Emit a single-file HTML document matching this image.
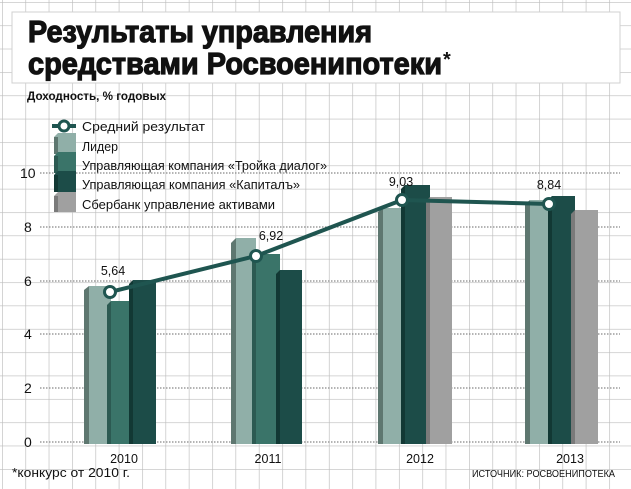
<!DOCTYPE html>
<html><head><meta charset="utf-8"><style>
html,body{margin:0;padding:0;background:#fff}
svg{display:block}
text{font-family:"Liberation Sans","DejaVu Sans",sans-serif}
</style></head><body>
<svg width="631" height="489" viewBox="0 0 631 489" xmlns="http://www.w3.org/2000/svg">
<defs>
<pattern id="g" x="2" y="2" width="23.35" height="23.35" patternUnits="userSpaceOnUse">
<path d="M0 0H23.35M0 0V23.35" stroke="#bdbdbd" stroke-width="1.3" fill="none"/>
</pattern>
</defs>
<rect width="631" height="489" fill="#fff"/>
<rect width="631" height="489" fill="url(#g)"/>
<rect x="12" y="12" width="608" height="71" fill="#fff" stroke="#d0d0d0" stroke-width="1"/>
<g font-weight="bold" fill="#111">
<text x="28" y="42" font-size="31" stroke="#111" stroke-width="1.2" textLength="344" lengthAdjust="spacingAndGlyphs">Результаты управления</text>
<text x="28" y="74" font-size="31" stroke="#111" stroke-width="1.2" textLength="414" lengthAdjust="spacingAndGlyphs">средствами Росвоенипотеки</text>
<text x="443" y="66" font-size="20">*</text>
<text x="27" y="100" font-size="11.5" textLength="139" lengthAdjust="spacingAndGlyphs">Доходность, % годовых</text>
</g>
<g stroke="#888" stroke-width="1.3" stroke-dasharray="1.5,1.5">
<line x1="40" y1="173" x2="620" y2="173"/>
<line x1="40" y1="227" x2="620" y2="227"/>
<line x1="40" y1="281" x2="620" y2="281"/>
<line x1="40" y1="334" x2="620" y2="334"/>
<line x1="40" y1="388" x2="620" y2="388"/>
<line x1="40" y1="442" x2="620" y2="442"/>
</g>
<g font-size="14" fill="#111">
<text x="20" y="178">10</text>
<text x="24" y="232">8</text>
<text x="24" y="286">6</text>
<text x="24" y="339">4</text>
<text x="24" y="393">2</text>
<text x="24" y="447">0</text>
</g>
<g>
<polygon points="84,290 89,286 89,444 84,444" fill="#5e7770"/><rect x="89" y="286" width="22" height="158" fill="#90afa8"/>
<polygon points="107,305 111,301 111,444 107,444" fill="#2c5a52"/><rect x="111" y="301" width="22" height="143" fill="#3a7469"/>
<polygon points="129,284 133,280 133,444 129,444" fill="#123834"/><rect x="133" y="280" width="23" height="164" fill="#1c4c48"/>
<polygon points="231,243 236,238 236,444 231,444" fill="#5e7770"/><rect x="236" y="238" width="20" height="206" fill="#90afa8"/>
<polygon points="252,258 256,254 256,444 252,444" fill="#2c5a52"/><rect x="256" y="254" width="24" height="190" fill="#3a7469"/>
<polygon points="276,274 280,270 280,444 276,444" fill="#123834"/><rect x="280" y="270" width="22" height="174" fill="#1c4c48"/>
<polygon points="378,212 383,208 383,444 378,444" fill="#5e7770"/><rect x="383" y="208" width="22" height="236" fill="#90afa8"/>
<polygon points="401,189 405,185 405,444 401,444" fill="#123834"/><rect x="405" y="185" width="25" height="259" fill="#1c4c48"/>
<polygon points="426,201 430,197 430,444 426,444" fill="#7a7a7a"/><rect x="430" y="197" width="22" height="247" fill="#a0a0a0"/>
<polygon points="525,204 530,200 530,444 525,444" fill="#5e7770"/><rect x="530" y="200" width="22" height="244" fill="#90afa8"/>
<polygon points="548,200 552,196 552,444 548,444" fill="#123834"/><rect x="552" y="196" width="23" height="248" fill="#1c4c48"/>
<polygon points="571,214 575,210 575,444 571,444" fill="#7a7a7a"/><rect x="575" y="210" width="23" height="234" fill="#a0a0a0"/>
</g>
<polyline points="110,292 256,256 402,200 549,204" fill="none" stroke="#1f5550" stroke-width="4"/>
<g fill="#fff" stroke="#1f5550" stroke-width="3">
<circle cx="110" cy="292" r="5.5"/><circle cx="256" cy="256" r="5.5"/>
<circle cx="402" cy="200" r="5.5"/><circle cx="549" cy="204" r="5.5"/>
</g>
<g font-size="12.5" fill="#111" text-anchor="middle">
<text x="113" y="275">5,64</text>
<text x="271" y="240">6,92</text>
<text x="401" y="186">9,03</text>
<text x="549" y="189">8,84</text>
</g>
<g font-size="12.5" fill="#111" text-anchor="middle">
<text x="124" y="463">2010</text>
<text x="268" y="463">2011</text>
<text x="420" y="463">2012</text>
<text x="570" y="463">2013</text>
</g>
<line x1="52" y1="126" x2="76" y2="126" stroke="#1f5550" stroke-width="4"/>
<circle cx="64" cy="126" r="5" fill="#fff" stroke="#1f5550" stroke-width="3"/>
<polygon points="54,137 58,133 76,133 76,154 54,154" fill="#90afa8"/><rect x="54" y="137" width="4" height="17" fill="#5e7770"/>
<polygon points="54,156 58,152 76,152 76,173 54,173" fill="#3a7469"/><rect x="54" y="156" width="4" height="17" fill="#2c5a52"/>
<polygon points="54,175 58,171 76,171 76,192 54,192" fill="#1c4c48"/><rect x="54" y="175" width="4" height="17" fill="#123834"/>
<polygon points="54,196 58,192 76,192 76,212 54,212" fill="#a0a0a0"/><rect x="54" y="196" width="4" height="16" fill="#7a7a7a"/>
<g font-size="12.5" fill="#111">
<text x="82" y="131" textLength="123" lengthAdjust="spacingAndGlyphs">Средний результат</text>
<text x="82" y="151" textLength="36" lengthAdjust="spacingAndGlyphs">Лидер</text>
<text x="82" y="170" textLength="245" lengthAdjust="spacingAndGlyphs">Управляющая компания «Тройка диалог»</text>
<text x="82" y="189" textLength="218" lengthAdjust="spacingAndGlyphs">Управляющая компания «Капиталъ»</text>
<text x="82" y="209" textLength="193" lengthAdjust="spacingAndGlyphs">Сбербанк управление активами</text>
</g>
<text x="12" y="477" font-size="12.5" fill="#111" textLength="118" lengthAdjust="spacingAndGlyphs">*конкурс от 2010 г.</text>
<text x="615" y="477" font-size="10.5" fill="#111" text-anchor="end" textLength="143" lengthAdjust="spacingAndGlyphs">ИСТОЧНИК: РОСВОЕНИПОТЕКА</text>
</svg>
</body></html>
